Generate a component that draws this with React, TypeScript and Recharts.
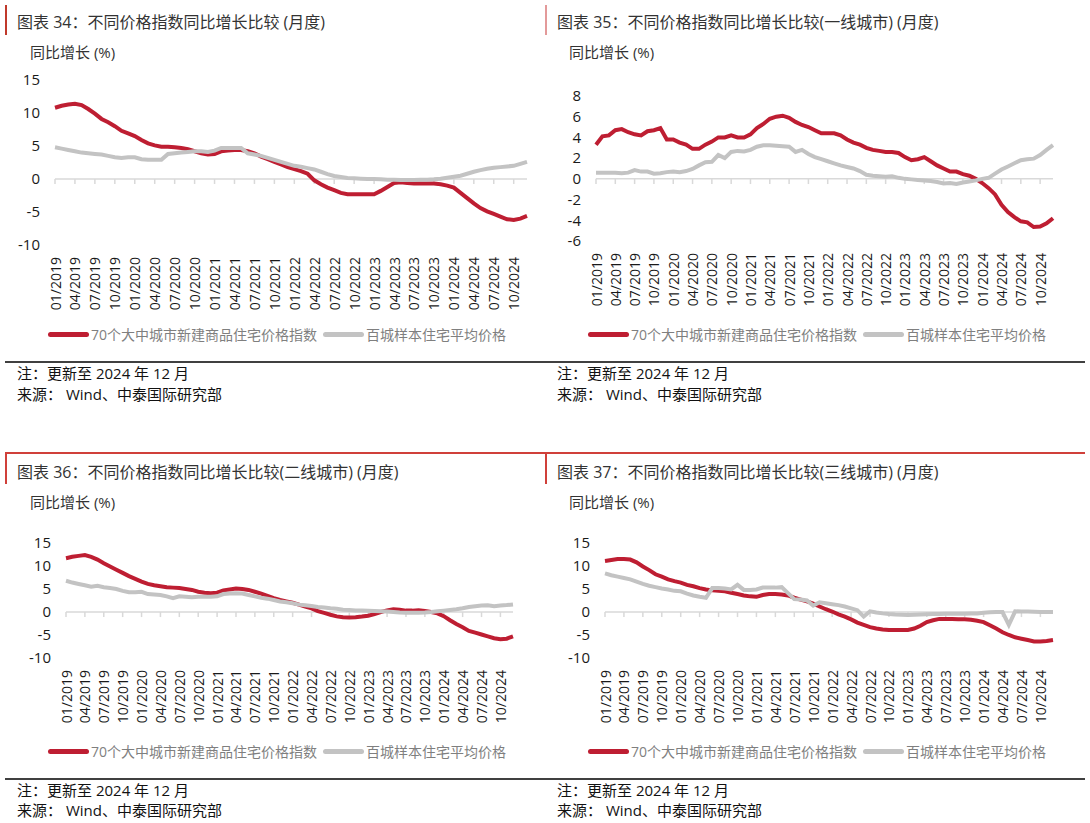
import React from 'react';
import { LineChart, Line, XAxis, YAxis, ReferenceLine } from 'recharts';

const RED = '#be1e32';
const GREY = '#c3c3c3';
const AXIS = '#d9d9d9';
const FONT = '"Open Sans", "Noto Sans CJK SC", sans-serif';

// monthly categories 01/2019 .. 12/2024
const years = ['2019', '2020', '2021', '2022', '2023', '2024'];
const mm = ['01', '02', '03', '04', '05', '06', '07', '08', '09', '10', '11', '12'];
const months = years.flatMap((y) => mm.map((m) => `${m}/${y}`));
const tickMonths = months.filter((_, i) => i % 3 === 0);

const seriesNames = ['70个大中城市新建商品住宅价格指数', '百城样本住宅平均价格'];

// 图表 34 全国
const allNew = [
  10.8, 11.1, 11.3, 11.4, 11.2, 10.6, 9.9, 9.1, 8.6, 8.0, 7.3, 6.9,
  6.5, 5.9, 5.4, 5.1, 4.9, 4.9, 4.8, 4.7, 4.5, 4.2, 3.9, 3.7,
  3.8, 4.2, 4.3, 4.4, 4.4, 4.2, 3.9, 3.4, 3.0, 2.6, 2.2, 1.8,
  1.5, 1.2, 0.8, -0.2, -0.8, -1.3, -1.7, -2.1, -2.3, -2.3, -2.3, -2.3,
  -2.3, -1.8, -1.2, -0.6, -0.5, -0.6, -0.7, -0.7, -0.7, -0.7, -0.8, -1.0,
  -1.3, -2.1, -2.9, -3.7, -4.4, -4.9, -5.3, -5.7, -6.1, -6.2, -6.0, -5.6,
];
const allHundred = [
  4.8, 4.6, 4.4, 4.2, 4.0, 3.9, 3.8, 3.7, 3.5, 3.3, 3.2, 3.3,
  3.3, 3.0, 2.9, 2.9, 2.9, 3.8, 3.9, 4.0, 4.1, 4.2, 4.2, 4.1,
  4.3, 4.7, 4.7, 4.7, 4.7, 3.9, 3.7, 3.5, 3.2, 2.9, 2.6, 2.3,
  2.0, 1.85, 1.65, 1.45, 1.1, 0.75, 0.45, 0.3, 0.15, 0.1, 0.05, 0.0,
  0.0, -0.05, -0.1, -0.1, -0.15, -0.15, -0.15, -0.1, -0.1, -0.05, 0.05, 0.2,
  0.35, 0.5, 0.8, 1.1, 1.35, 1.55, 1.7, 1.8, 1.9, 2.0, 2.3, 2.6,
];

// 图表 35 一线城市
const tier1New = [
  3.3, 4.1, 4.2, 4.7, 4.8, 4.5, 4.3, 4.2, 4.6, 4.7, 4.9, 3.8,
  3.8, 3.5, 3.3, 2.9, 2.9, 3.3, 3.6, 4.0, 4.0, 4.2, 4.0, 4.0,
  4.3, 4.9, 5.3, 5.8, 6.0, 6.1, 5.9, 5.5, 5.2, 5.0, 4.7, 4.4,
  4.4, 4.4, 4.2, 3.8, 3.5, 3.3, 3.0, 2.8, 2.7, 2.6, 2.6, 2.5,
  2.1, 1.8, 1.9, 2.1, 1.7, 1.3, 1.0, 0.7, 0.7, 0.45, 0.3, 0.0,
  -0.4, -0.9, -1.5, -2.5, -3.2, -3.7, -4.1, -4.2, -4.65, -4.6, -4.3, -3.8,
];
const tier1Hundred = [
  0.6, 0.6, 0.6, 0.6, 0.55, 0.6, 0.85, 0.7, 0.7, 0.5, 0.55, 0.65,
  0.7, 0.65, 0.75, 0.95, 1.3, 1.6, 1.65, 2.3, 2.0, 2.6, 2.7, 2.65,
  2.8, 3.1, 3.25, 3.25, 3.2, 3.15, 3.1, 2.6, 2.8, 2.4, 2.1, 1.9,
  1.7, 1.5, 1.3, 1.15, 1.0, 0.75, 0.4, 0.3, 0.25, 0.2, 0.25, 0.1,
  0.0, -0.05, -0.1, -0.15, -0.2, -0.3, -0.45, -0.4, -0.5, -0.35, -0.25, -0.15,
  0.0, 0.1, 0.5, 0.9, 1.2, 1.5, 1.8, 1.9, 1.95, 2.3, 2.8, 3.25,
];

// 图表 36 二线城市
const tier2New = [
  11.7, 12.0, 12.2, 12.4, 12.0, 11.4, 10.6, 9.9, 9.2, 8.5, 7.8, 7.2,
  6.6, 6.1, 5.8, 5.6, 5.4, 5.3, 5.2, 5.0, 4.8, 4.4, 4.2, 4.1,
  4.2, 4.7, 4.9, 5.1, 5.0, 4.8, 4.4, 4.0, 3.5, 3.0, 2.6, 2.3,
  2.0, 1.6, 1.2, 0.8, 0.2, -0.2, -0.6, -0.95, -1.15, -1.2, -1.15, -1.0,
  -0.8, -0.45, 0.0, 0.35, 0.6, 0.5, 0.3, 0.3, 0.4, 0.2, 0.0, -0.3,
  -0.9, -1.8, -2.6, -3.3, -4.1, -4.5, -4.9, -5.3, -5.7, -5.9, -5.8, -5.3,
];
const tier2Hundred = [
  6.8, 6.4, 6.1, 5.8, 5.5, 5.7, 5.4, 5.2, 5.0, 4.6, 4.3, 4.3,
  4.4, 3.9, 3.8, 3.7, 3.4, 3.0, 3.4, 3.3, 3.2, 3.3, 3.3, 3.3,
  3.4, 3.9, 4.0, 4.1, 4.0, 3.7, 3.4, 3.1, 2.9, 2.6, 2.3, 2.1,
  1.9, 1.6, 1.45, 1.3, 1.1, 1.0, 0.8, 0.7, 0.5, 0.45, 0.35, 0.3,
  0.25, 0.2, 0.15, 0.1, 0.0, -0.1, -0.15, -0.15, -0.15, -0.1, 0.0, 0.15,
  0.3, 0.45, 0.6, 0.8, 1.1, 1.25, 1.4, 1.45, 1.25, 1.4, 1.5, 1.65,
];

// 图表 37 三线城市
const tier3New = [
  11.1, 11.3, 11.5, 11.5, 11.4, 10.8, 9.9, 9.1, 8.2, 7.7, 7.1, 6.7,
  6.4, 5.9, 5.6, 5.2, 4.9, 4.7, 4.6, 4.5, 4.2, 3.9, 3.6, 3.4,
  3.3, 3.7, 3.9, 3.9, 3.8, 3.6, 3.1, 2.7, 2.3, 1.8, 1.2, 0.6,
  0.1, -0.5, -1.0, -1.6, -2.3, -2.8, -3.3, -3.6, -3.8, -3.9, -3.9, -3.9,
  -3.9, -3.6, -3.0, -2.2, -1.8, -1.5, -1.5, -1.5, -1.6, -1.6, -1.7, -1.9,
  -2.2, -2.9, -3.6, -4.4, -5.0, -5.5, -5.8, -6.1, -6.4, -6.4, -6.3, -6.1,
];
const tier3Hundred = [
  8.4, 8.0, 7.7, 7.4, 7.1, 6.6, 6.1, 5.7, 5.4, 5.1, 4.9, 4.6,
  4.5, 4.0, 3.6, 3.3, 3.1, 5.2, 5.2, 5.1, 4.9, 5.9, 4.8, 4.8,
  4.9, 5.3, 5.3, 5.3, 5.4, 4.1, 2.8, 2.7, 2.5, 1.4, 2.1, 1.9,
  1.7, 1.5, 1.2, 0.8, 0.4, -1.0, 0.15, -0.1, -0.3, -0.45, -0.55, -0.6,
  -0.65, -0.6, -0.55, -0.5, -0.45, -0.45, -0.4, -0.4, -0.4, -0.4, -0.35, -0.3,
  -0.15, -0.05, 0.0, 0.0, -2.8, 0.15, 0.1, 0.1, 0.05, 0.0, 0.0, 0.0,
];

const ticksWide = [-10, -5, 0, 5, 10, 15];
const ticksTier1 = [-6, -4, -2, 0, 2, 4, 6, 8];

const panels = [
  {
    title: '图表 34：不同价格指数同比增长比较 (月度)',
    a: allNew, b: allHundred, domain: [-10, 15], ticks: ticksWide, tickLen: 0.75,
    x: 0, top: 0, plot: { left: 55, right: 527, top: 80, bottom: 245 },
  },
  {
    title: '图表 35：不同价格指数同比增长比较(一线城市) (月度)',
    a: tier1New, b: tier1Hundred, domain: [-6, 8], ticks: ticksTier1, tickLen: 0.5,
    x: 545, top: 0, plot: { left: 596, right: 1053, top: 96, bottom: 241 },
  },
  {
    title: '图表 36：不同价格指数同比增长比较(二线城市) (月度)',
    a: tier2New, b: tier2Hundred, domain: [-10, 15], ticks: ticksWide, tickLen: 1.1,
    x: 0, top: 450, plot: { left: 66, right: 513, top: 543, bottom: 658 },
  },
  {
    title: '图表 37：不同价格指数同比增长比较(三线城市) (月度)',
    a: tier3New, b: tier3Hundred, domain: [-10, 15], ticks: ticksWide, tickLen: 1.1,
    x: 545, top: 450, plot: { left: 605, right: 1053, top: 543, bottom: 658 },
  },
];

const MonthTick = (props: any) => {
  const { x, y, payload } = props;
  return (
    <text
      x={x}
      y={y}
      transform={`rotate(-90 ${x} ${y})`}
      textAnchor="end"
      dominantBaseline="central"
      fontSize={14}
      fontFamily={FONT}
      fill="#1a1a1a"
    >
      {payload.value}
    </text>
  );
};

const Txt = ({ x, y, size, color, children }: any) => (
  <div
    style={{
      position: 'absolute',
      left: x,
      top: y - 11,
      lineHeight: '22px',
      fontSize: size,
      color,
      whiteSpace: 'nowrap',
    }}
  >
    {children}
  </div>
);

const LegendRow = ({ x, y }: { x: number; y: number }) => (
  <div
    style={{
      position: 'absolute',
      left: x,
      top: y - 10,
      height: 20,
      display: 'flex',
      alignItems: 'center',
      fontSize: 14,
      color: '#7f7f7f',
      whiteSpace: 'nowrap',
    }}
  >
    {[RED, GREY].map((c, i) => (
      <React.Fragment key={c}>
        <span
          style={{
            display: 'inline-block',
            width: 41,
            height: 5,
            borderRadius: 3,
            background: c,
            marginRight: 2,
            marginLeft: i === 1 ? 6 : 0,
          }}
        />
        <span>{seriesNames[i]}</span>
      </React.Fragment>
    ))}
  </div>
);

const Panel = ({ p }: { p: any }) => {
  const data = months.map((m, i) => ({ m, a: p.a[i], b: p.b[i] }));
  const oy = p.plot.top - 20;
  const height = p.plot.bottom - oy + 75;
  const right = p.x > 0;
  const tx = p.x + (right ? 12 : 17);
  const bottomRow = p.top > 0;
  return (
    <>
      <Txt x={tx} y={p.top + 22} size={16} color="#333">{p.title}</Txt>
      <Txt x={p.x + (right ? 24 : 30)} y={p.top + 52} size={15} color="#333">同比增长 (%)</Txt>
      <div style={{ position: 'absolute', left: p.x, top: oy }}>
        <LineChart
          width={545}
          height={height}
          data={data}
          margin={{ top: 20, right: p.x + 545 - p.plot.right, bottom: 5, left: 0 }}
        >
          <XAxis
            dataKey="m"
            interval={2}
            axisLine={false}
            tickLine={false}
            tickSize={0}
            tickMargin={12}
            height={70}
            tick={<MonthTick />}
          />
          <YAxis
            domain={p.domain}
            ticks={p.ticks}
            interval={0}
            width={p.plot.left - p.x}
            axisLine={false}
            tickLine={false}
            tickSize={0}
            tickMargin={15}
            tick={{ fontSize: 15, fill: '#1a1a1a', fontFamily: FONT }}
          />
          <ReferenceLine y={0} stroke={AXIS} strokeWidth={1.5} />
          {tickMonths.map((t) => (
            <ReferenceLine
              key={t}
              segment={[{ x: t, y: 0 }, { x: t, y: -p.tickLen }]}
              stroke={AXIS}
              strokeWidth={1.5}
            />
          ))}
          <Line type="linear" dataKey="a" stroke={RED} strokeWidth={4} dot={false} isAnimationActive={false} />
          <Line type="linear" dataKey="b" stroke={GREY} strokeWidth={4} dot={false} isAnimationActive={false} />
        </LineChart>
      </div>
      <LegendRow x={p.x + (right ? 43 : 48)} y={bottomRow ? 751 : 334} />
      <Txt x={tx} y={bottomRow ? 790 : 373} size={15} color="#111">注：更新至 2024 年 12 月</Txt>
      <Txt x={tx} y={bottomRow ? 810 : 394} size={15} color="#111">来源： Wind、中泰国际研究部</Txt>
    </>
  );
};

const line = (s: any) => <div style={{ position: 'absolute', ...s }} />;

export default function App() {
  return (
    <div
      style={{
        position: 'absolute',
        left: 0,
        top: 0,
        width: 1090,
        height: 823,
        background: '#fff',
        fontFamily: FONT,
        overflow: 'hidden',
      }}
    >
      {line({ left: 5, top: 5, width: 1.5, height: 30, background: '#c0392b' })}
      {line({ left: 545, top: 5, width: 1.5, height: 30, background: '#e39a9a' })}
      {line({ left: 5, top: 361, width: 1080, height: 1.5, background: '#404040' })}
      {line({ left: 5, top: 452, width: 1080, height: 1.5, background: '#d0403a' })}
      {line({ left: 5, top: 452, width: 1.5, height: 32, background: '#d0403a' })}
      {line({ left: 545, top: 452, width: 1.5, height: 32, background: '#d0403a' })}
      {line({ left: 5, top: 778, width: 1080, height: 1.5, background: '#404040' })}
      {panels.map((p) => (
        <Panel key={p.title} p={p} />
      ))}
    </div>
  );
}
